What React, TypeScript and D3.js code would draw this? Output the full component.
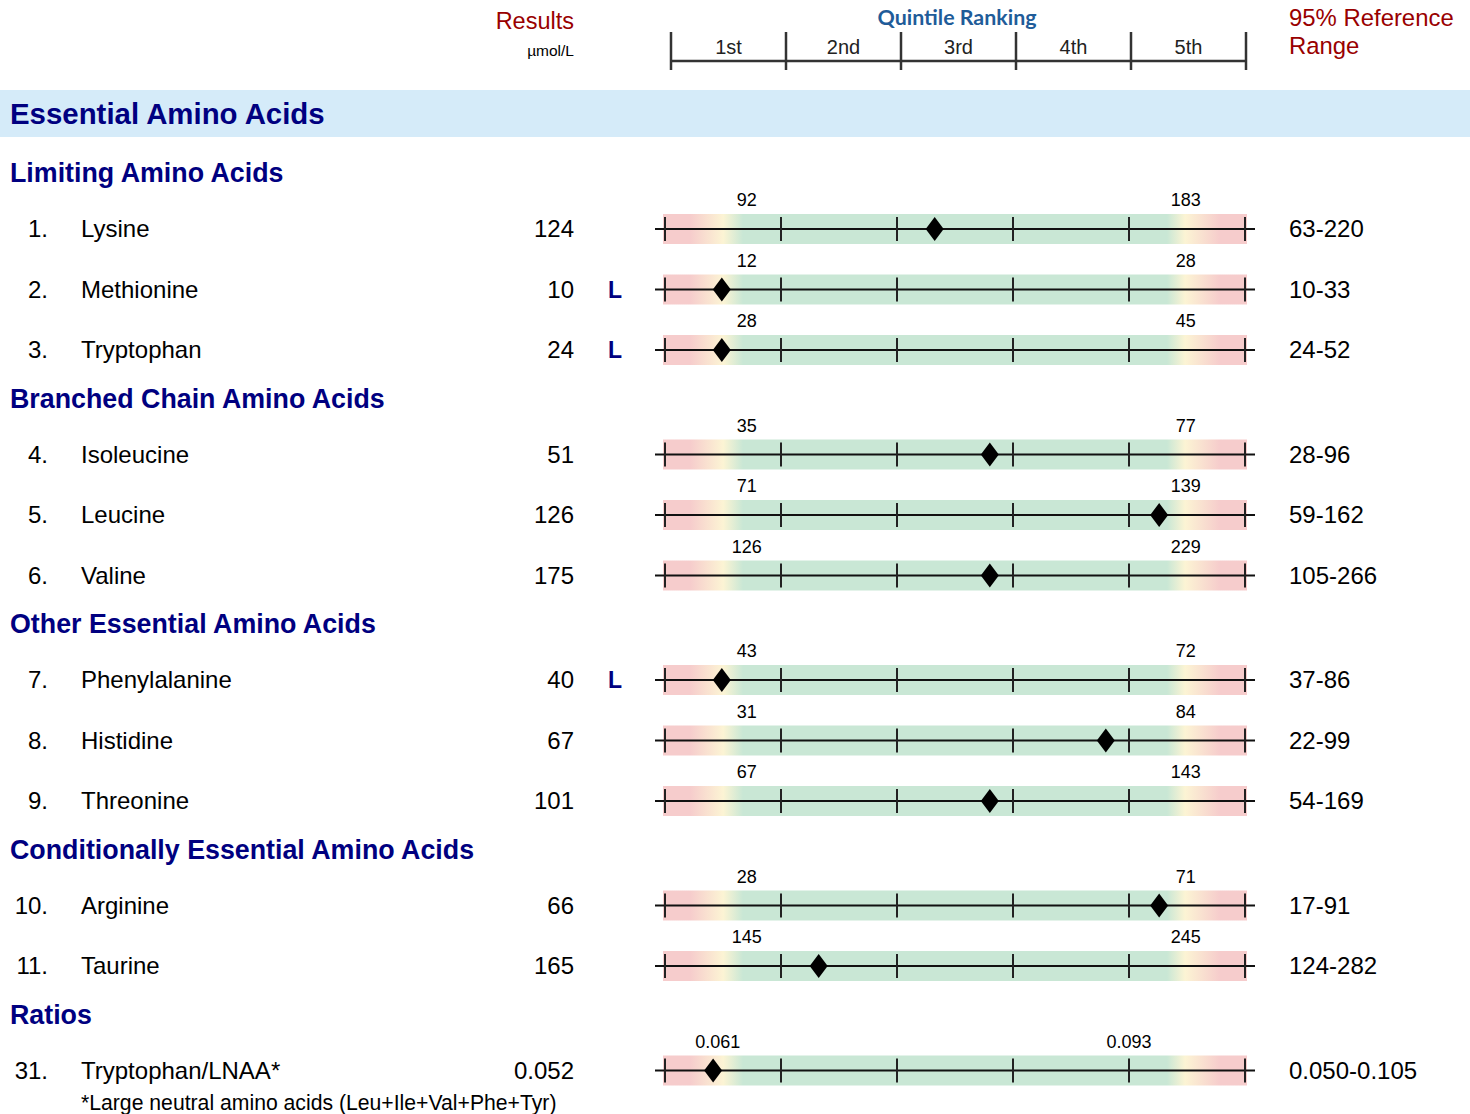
import * as d3 from 'd3';

const sections = [
  'Limiting Amino Acids',
  'Branched Chain Amino Acids',
  'Other Essential Amino Acids',
  'Conditionally Essential Amino Acids',
  'Ratios',
];
const sectionOf = [0, 0, 0, 1, 1, 1, 2, 2, 2, 3, 3, 4];
const numbers = ['1.', '2.', '3.', '4.', '5.', '6.', '7.', '8.', '9.', '10.', '11.', '31.'];
const names = [
  'Lysine', 'Methionine', 'Tryptophan', 'Isoleucine', 'Leucine', 'Valine',
  'Phenylalanine', 'Histidine', 'Threonine', 'Arginine', 'Taurine', 'Tryptophan/LNAA*',
];
const results = ['124', '10', '24', '51', '126', '175', '40', '67', '101', '66', '165', '0.052'];
const flags = ['', 'L', 'L', '', '', '', 'L', '', '', '', '', ''];
const lowBounds = ['92', '12', '28', '35', '71', '126', '43', '31', '67', '28', '145', '0.061'];
const highBounds = ['183', '28', '45', '77', '139', '229', '72', '84', '143', '71', '245', '0.093'];
const refRanges = [
  '63-220', '10-33', '24-52', '28-96', '59-162', '105-266',
  '37-86', '22-99', '54-169', '17-91', '124-282', '0.050-0.105',
];
// position of the diamond, in percentile of the ranking bar
const percentiles = [46.5, 9.8, 9.8, 56, 85.2, 56, 9.8, 76, 56, 85.2, 26.5, 8.3];
const quintileLabels = ['1st', '2nd', '3rd', '4th', '5th'];

const W = 1470;
const H = 1114;
const FONT = '"Liberation Sans", Arial, sans-serif';
const NAVY = '#000080';
const DARKRED = '#990000';

export default function App() {
  const x = d3.scaleLinear().domain([0, 100]).range([665, 1245]);
  const xq = d3.scaleLinear().domain([0, 5]).range([671, 1246]);
  const ticks = d3.range(0, 101, 20);

  // vertical layout
  const headerY: number[] = [];
  const rowY: number[] = [];
  let y = 173;
  let prev = -1;
  sectionOf.forEach((s, i) => {
    if (s !== prev) {
      if (prev !== -1) y = rowY[i - 1] + 48.5;
      headerY[s] = y;
      y += 56;
      prev = s;
    } else {
      y += 60.5;
    }
    rowY[i] = y;
  });

  const diamond = (cx: number, cy: number) =>
    `M${cx},${cy - 12}L${cx + 9},${cy}L${cx},${cy + 12}L${cx - 9},${cy}Z`;

  return (
    <svg
      width={W}
      height={H}
      style={{ position: 'absolute', left: 0, top: 0, display: 'block', background: '#fff' }}
      fontFamily={FONT}
    >
      <defs>
        <linearGradient id="rangeGrad" x1="0" x2="1" y1="0" y2="0">
          <stop offset="0" stopColor="#f6cccc" />
          <stop offset="0.046" stopColor="#f6cccc" />
          <stop offset="0.103" stopColor="#fcf4d4" />
          <stop offset="0.137" stopColor="#c9e7d5" />
          <stop offset="0.863" stopColor="#c9e7d5" />
          <stop offset="0.894" stopColor="#fcf4d4" />
          <stop offset="0.954" stopColor="#f6cccc" />
          <stop offset="1" stopColor="#f6cccc" />
        </linearGradient>
      </defs>

      {/* column headers */}
      <text x={574} y={29} textAnchor="end" fontSize={23.5} fill={DARKRED}>Results</text>
      <text x={574} y={56} textAnchor="end" fontSize={15.5} fill="#000">µmol/L</text>
      <text
        x={957}
        y={25}
        textAnchor="middle"
        fontSize={21.4}
        fontWeight={700}
        fontFamily="Lato, sans-serif"
        fill="#1f5c99"
      >
        Quintile Ranking
      </text>
      <line x1={xq(0)} x2={xq(5)} y1={61} y2={61} stroke="#333" strokeWidth={2.5} />
      {d3.range(0, 6).map((q) => (
        <line key={q} x1={xq(q)} x2={xq(q)} y1={32} y2={70} stroke="#333" strokeWidth={2.5} />
      ))}
      {quintileLabels.map((l, q) => (
        <text key={l} x={xq(q + 0.5)} y={54} textAnchor="middle" fontSize={20} fill="#222">{l}</text>
      ))}
      <text x={1289} y={26} fontSize={23.9} fill={DARKRED}>95% Reference</text>
      <text x={1289} y={54} fontSize={23.9} fill={DARKRED}>Range</text>

      {/* main band */}
      <rect x={0} y={90} width={W} height={47} fill="#d5ebf9" />
      <text x={10} y={114} dy="0.35em" fontSize={29.4} fontWeight={700} fill={NAVY}>
        Essential Amino Acids
      </text>

      {sections.map((s, k) => (
        <text key={s} x={10} y={headerY[k]} dy="0.35em" fontSize={26.8} fontWeight={700} fill={NAVY}>
          {s}
        </text>
      ))}

      {names.map((name, i) => {
        const cy = rowY[i];
        const isRatio = sectionOf[i] === 4;
        const lowX = isRatio ? x(9.1) : x(14.1);
        const highX = isRatio ? x(80) : x(89.8);
        return (
          <g key={name}>
            <text x={48} y={cy} dy="0.35em" textAnchor="end" fontSize={24}>{numbers[i]}</text>
            <text x={81} y={cy} dy="0.35em" fontSize={24}>{name}</text>
            <text x={574} y={cy} dy="0.35em" textAnchor="end" fontSize={24}>{results[i]}</text>
            {flags[i] && (
              <text x={615} y={cy} dy="0.35em" textAnchor="middle" fontSize={23} fontWeight={700} fill={NAVY}>
                {flags[i]}
              </text>
            )}
            <rect x={x(0) - 2} y={cy - 15} width={x(100) - x(0) + 4} height={30} fill="url(#rangeGrad)" />
            <line x1={x(0) - 10} x2={x(100) + 10} y1={cy} y2={cy} stroke="#111" strokeWidth={2} />
            {ticks.map((t) => (
              <line key={t} x1={x(t)} x2={x(t)} y1={cy - 12} y2={cy + 12} stroke="#222" strokeWidth={2} />
            ))}
            <text x={lowX} y={cy - 29} dy="0.35em" textAnchor="middle" fontSize={18}>{lowBounds[i]}</text>
            <text x={highX} y={cy - 29} dy="0.35em" textAnchor="middle" fontSize={18}>{highBounds[i]}</text>
            <path d={diamond(x(percentiles[i]), cy)} fill="#000" />
            <text x={1289} y={cy} dy="0.35em" fontSize={24}>{refRanges[i]}</text>
          </g>
        );
      })}

      <text x={81} y={1103} dy="0.35em" fontSize={21.2}>
        *Large neutral amino acids (Leu+Ile+Val+Phe+Tyr)
      </text>
    </svg>
  );
}
